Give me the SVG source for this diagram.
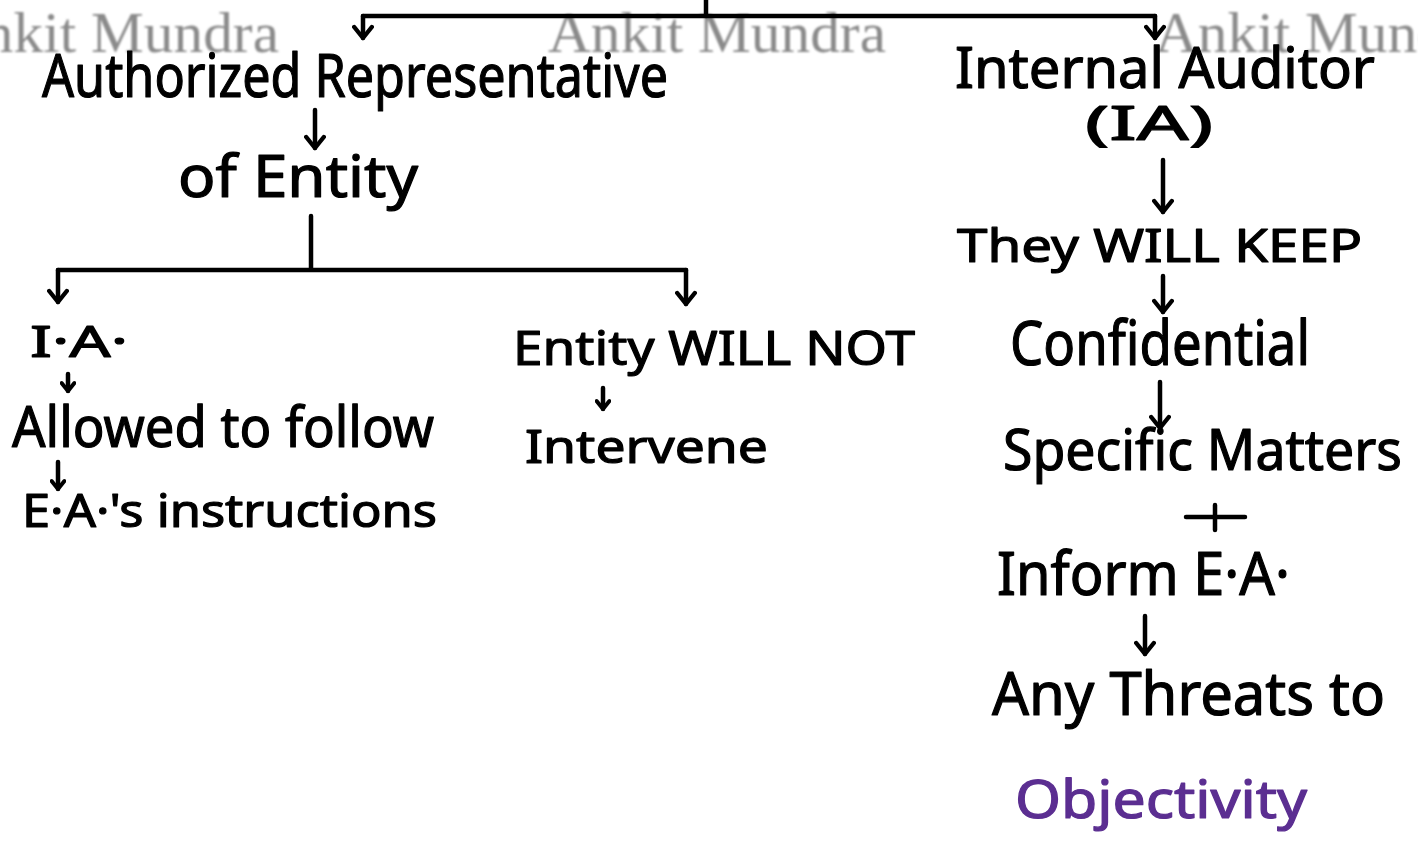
<svg xmlns="http://www.w3.org/2000/svg" width="1418" height="848" viewBox="0 0 1418 848">
  <defs>
    <!-- open chevron arrowhead, drawn pointing along +x so orient="auto" follows the stroke -->
    <marker id="chev" viewBox="0 0 20 20" refX="16" refY="10" markerWidth="22" markerHeight="22" markerUnits="userSpaceOnUse" orient="auto">
      <path d="M6,2 L16,10 L6,18" fill="none" stroke="#000" stroke-width="4" stroke-linecap="round" stroke-linejoin="round"/>
    </marker>
    <marker id="chevS" viewBox="0 0 20 20" refX="16" refY="10" markerWidth="16" markerHeight="16" markerUnits="userSpaceOnUse" orient="auto">
      <path d="M6,2 L16,10 L6,18" fill="none" stroke="#000" stroke-width="5" stroke-linecap="round" stroke-linejoin="round"/>
    </marker>
    <filter id="soft" x="-5%" y="-20%" width="110%" height="140%">
      <feGaussianBlur stdDeviation="0.8"/>
    </filter>
  </defs>
  <style>
    .wm { font-family: "Liberation Serif", serif; font-size: 57px; fill: #8a8a8a; }
    .hw { font-family: "Noto Sans", "DejaVu Sans", sans-serif; fill: #000; stroke: #000; stroke-width: 1.2; stroke-linejoin: round; }
    .obj { fill: #5b2e91; stroke: #5b2e91; }
    .line { fill: none; stroke: #000; stroke-width: 4.5; stroke-linecap: round; }
    .arr { fill: none; stroke: #000; stroke-width: 4.5; stroke-linecap: round; marker-end: url(#chev); }
    .arrS { fill: none; stroke: #000; stroke-width: 4.5; stroke-linecap: round; marker-end: url(#chevS); }
  </style>

  <rect width="1418" height="848" fill="#fff"/>

  <!-- watermark row -->
  <g id="watermark" filter="url(#soft)">
    <text class="wm" x="-59" y="52" textLength="338" lengthAdjust="spacingAndGlyphs">Ankit Mundra</text>
    <text class="wm" x="548" y="52" textLength="338" lengthAdjust="spacingAndGlyphs">Ankit Mundra</text>
    <text class="wm" x="1155" y="52" textLength="338" lengthAdjust="spacingAndGlyphs">Ankit Mundra</text>
  </g>

  <!-- connectors -->
  <g id="connectors">
    <path class="line" d="M706,0 V16"/>
    <path class="line" d="M363,16 H1155"/>
    <path class="arr" d="M363,16 V38"/>
    <path class="arr" d="M1155,16 V38"/>
    <path class="arr" d="M315,110 V148"/>
    <path class="line" d="M311,216 V268"/>
    <path class="line" d="M58,270 H686"/>
    <path class="arr" d="M58,270 V302"/>
    <path class="arr" d="M686,270 V304"/>
    <path class="arrS" d="M68,374 V391"/>
    <path class="arrS" d="M58,462 V489"/>
    <path class="arrS" d="M603,388 V409"/>
    <path class="arr" d="M1163,160 V212"/>
    <path class="arr" d="M1163,276 V312"/>
    <path class="arr" d="M1160,382 V428"/>
    <path class="arr" d="M1145,616 V654"/>
  </g>

  <!-- left branch -->
  <g id="node-authorized-rep">
    <text class="hw" x="42" y="97" font-size="60" textLength="626" lengthAdjust="spacingAndGlyphs">Authorized Representative</text>
  </g>
  <g id="node-of-entity">
    <text class="hw" x="178" y="197" font-size="58" textLength="240" lengthAdjust="spacingAndGlyphs">of Entity</text>
  </g>
  <g id="node-ia">
    <text class="hw" x="30" y="357" font-size="44" textLength="98" lengthAdjust="spacingAndGlyphs">I·A·</text>
  </g>
  <g id="node-allowed">
    <text class="hw" x="12" y="447" font-size="56" textLength="422" lengthAdjust="spacingAndGlyphs">Allowed to follow</text>
  </g>
  <g id="node-ea-instructions">
    <text class="hw" x="22" y="527" font-size="46" textLength="415" lengthAdjust="spacingAndGlyphs">E·A·'s instructions</text>
  </g>
  <g id="node-entity-will-not">
    <text class="hw" x="513" y="365" font-size="48" textLength="402" lengthAdjust="spacingAndGlyphs">Entity WILL NOT</text>
  </g>
  <g id="node-intervene">
    <text class="hw" x="525" y="463" font-size="46" textLength="243" lengthAdjust="spacingAndGlyphs">Intervene</text>
  </g>

  <!-- right branch -->
  <g id="node-internal-auditor">
    <text class="hw" x="955" y="88" font-size="56" textLength="420" lengthAdjust="spacingAndGlyphs">Internal Auditor</text>
  </g>
  <g id="node-ia-abbr">
    <text class="hw" x="1085" y="140" font-size="48" textLength="128" lengthAdjust="spacingAndGlyphs">(IA)</text>
  </g>
  <g id="node-they-will-keep">
    <text class="hw" x="957" y="262" font-size="46" textLength="405" lengthAdjust="spacingAndGlyphs">They WILL KEEP</text>
  </g>
  <g id="node-confidential">
    <text class="hw" x="1010" y="365" font-size="62" textLength="300" lengthAdjust="spacingAndGlyphs">Confidential</text>
  </g>
  <g id="node-specific-matters">
    <text class="hw" x="1003" y="470" font-size="56" textLength="399" lengthAdjust="spacingAndGlyphs">Specific Matters</text>
  </g>
  <g id="node-plus">
    <path class="line" d="M1186,517 H1245 M1215,505 V530"/>
  </g>
  <g id="node-inform-ea">
    <text class="hw" x="997" y="595" font-size="60" textLength="293" lengthAdjust="spacingAndGlyphs">Inform E·A·</text>
  </g>
  <g id="node-any-threats">
    <text class="hw" x="992" y="715" font-size="60" textLength="393" lengthAdjust="spacingAndGlyphs">Any Threats to</text>
  </g>
  <g id="node-objectivity">
    <text class="hw obj" x="1015" y="818" font-size="52" textLength="292" lengthAdjust="spacingAndGlyphs">Objectivity</text>
  </g>
</svg>
